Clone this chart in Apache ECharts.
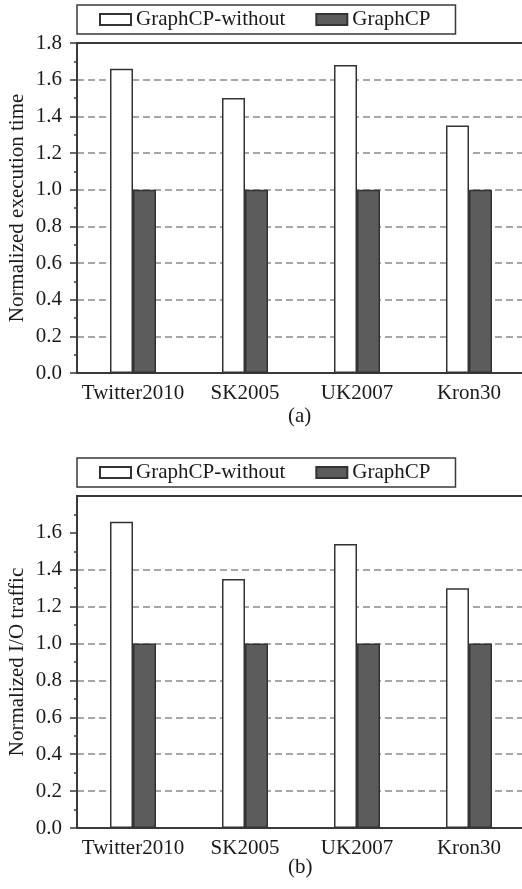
<!DOCTYPE html>
<html>
<head>
<meta charset="utf-8">
<script src="https://cdn.jsdelivr.net/npm/echarts@6/dist/echarts.min.js"></script>
<style>
  html, body { margin: 0; padding: 0; background: #fff; }
  #chart { width: 522px; height: 889px; }
</style>
</head>
<body>
<div id="chart"></div>
<script>
// Graph datasets on the x axis
const categories = ['Twitter2010', 'SK2005', 'UK2007', 'Kron30'];
const seriesNames = ['GraphCP-without', 'GraphCP'];

// (a) normalized execution time
const execWithout = [1.66, 1.50, 1.68, 1.35];
const execGraphCP = [1.00, 1.00, 1.00, 1.00];

// (b) normalized I/O traffic
const ioWithout = [1.66, 1.35, 1.54, 1.30];
const ioGraphCP = [1.00, 1.00, 1.00, 1.00];

// y-axis tick values for each panel
const yTicksA = [0, 0.2, 0.4, 0.6, 0.8, 1.0, 1.2, 1.4, 1.6, 1.8];
const yTicksB = [0, 0.2, 0.4, 0.6, 0.8, 1.0, 1.2, 1.4, 1.6];

const FONT = 'Liberation Serif';
const INK = '#1a1a1a';
const AXIS = '#3a3a3a';
const FS = 21;

function legendAt(top) {
  return {
    left: 77, top: top,
    orient: 'horizontal',
    padding: [4, 25, 4, 22],
    itemGap: 30,
    itemWidth: 31, itemHeight: 11,
    icon: 'rect',
    borderColor: AXIS, borderWidth: 1.5,
    backgroundColor: '#fff',
    textStyle: { fontFamily: FONT, fontSize: FS, color: INK },
    data: seriesNames
  };
}

function gridAt(top, height) {
  return {
    left: 77, right: -3, top: top, height: height,
    outerBoundsMode: 'none', containLabel: false,
    show: true, borderColor: AXIS, borderWidth: 2, backgroundColor: 'transparent'
  };
}

function xAxesFor(gi) {
  return [
    {
      gridIndex: gi, type: 'category', data: categories,
      axisLine: { lineStyle: { color: AXIS, width: 2 } },
      axisTick: { alignWithLabel: true, length: 6, lineStyle: { color: AXIS, width: 1.5 } },
      axisLabel: { interval: 0, fontFamily: FONT, fontSize: FS, color: INK, margin: 10 }
    },
    {
      // short ticks at category boundaries
      gridIndex: gi, type: 'category', data: categories, position: 'bottom',
      axisLine: { show: false },
      axisTick: { interval: 0, length: 3, lineStyle: { color: AXIS, width: 1.5 } },
      axisLabel: { show: false },
      splitLine: { show: false }
    }
  ];
}

function yAxisFor(gi, ticks, name) {
  return {
    gridIndex: gi, type: 'value', min: 0, max: 1.8, interval: 0.2,
    name: name, nameLocation: 'middle', nameGap: 49, nameMoveOverlap: false,
    nameTextStyle: { fontFamily: FONT, fontSize: FS, color: INK },
    axisLine: { show: true, lineStyle: { color: AXIS, width: 2 } },
    axisTick: { show: true, length: 7, customValues: ticks, lineStyle: { color: AXIS, width: 1.5 } },
    minorTick: { show: true, splitNumber: 2, length: 3, lineStyle: { color: AXIS, width: 1.5 } },
    axisLabel: {
      customValues: ticks, margin: 15,
      fontFamily: FONT, fontSize: FS, color: INK,
      formatter: v => v.toFixed(1)
    },
    splitLine: {
      show: true, showMinLine: false, showMaxLine: false,
      lineStyle: { color: '#8a8a8a', width: 1.5, type: [7, 4] }
    }
  };
}

function barSeries(name, data, xi, yi, color) {
  return {
    name: name, type: 'bar', data: data,
    xAxisIndex: xi, yAxisIndex: yi,
    barWidth: 23, barGap: '0%',
    itemStyle: { color: color, borderColor: '#333', borderWidth: 1.5 },
    emphasis: { disabled: true }
  };
}

const chart = echarts.init(document.getElementById('chart'), null, { renderer: 'canvas' });
chart.setOption({
  animation: false,
  backgroundColor: '#fff',
  legend: [legendAt(5), legendAt(458)],
  grid: [gridAt(43, 330), gridAt(496, 332)],
  xAxis: [...xAxesFor(0), ...xAxesFor(1)],
  yAxis: [
    yAxisFor(0, yTicksA, 'Normalized execution time'),
    yAxisFor(1, yTicksB, 'Normalized I/O traffic')
  ],
  series: [
    barSeries(seriesNames[0], execWithout, 0, 0, '#ffffff'),
    barSeries(seriesNames[1], execGraphCP, 0, 0, '#5c5c5c'),
    barSeries(seriesNames[0], ioWithout, 2, 1, '#ffffff'),
    barSeries(seriesNames[1], ioGraphCP, 2, 1, '#5c5c5c')
  ],
  graphic: [
    { type: 'text', left: 288, top: 406, style: { text: '(a)', font: FS + 'px "' + FONT + '"', fill: INK } },
    { type: 'text', left: 288, top: 857, style: { text: '(b)', font: FS + 'px "' + FONT + '"', fill: INK } }
  ]
});
</script>
</body>
</html>
